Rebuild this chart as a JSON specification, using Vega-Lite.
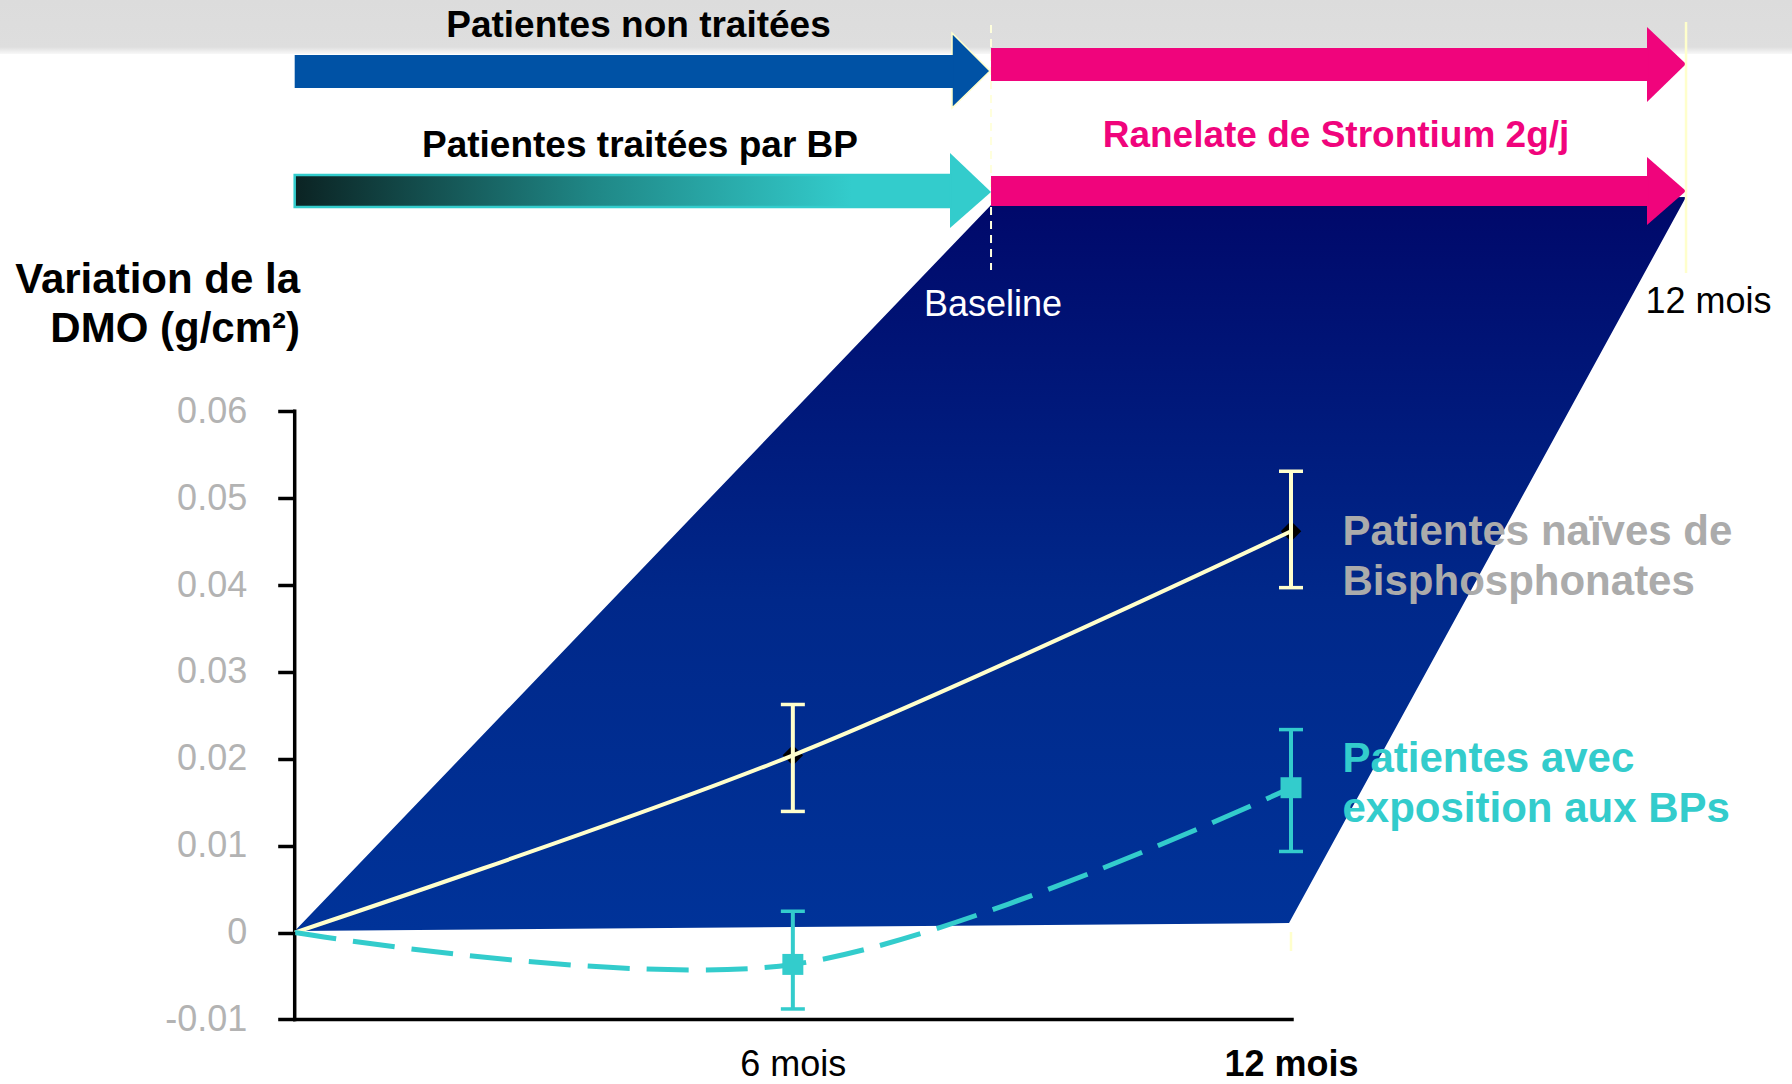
{
  "$schema": "https://vega.github.io/schema/vega-lite/v6.json",
  "width": 1792,
  "height": 1084,
  "autosize": {"type": "fit", "contains": "padding"},
  "padding": 0,
  "background": "white",
  "config": {"view": {"stroke": null}, "text": {"font": "Liberation Sans"}},
  "datasets": {
    "band": [{"x": -3.5495, "x2": 18.0343, "y": 0.107348, "y2": 0.101132}],
    "quad": [
      {"y": 0.08467, "x": 16.758, "x2": 16.758},
      {"y": 0.08375, "x": 8.387, "x2": 16.705},
      {"y": 0.001094, "x": 0.0927, "x2": 11.976},
      {"y": 0.000173, "x": 0, "x2": 0}
    ],
    "bodies": [
      {"arrow": "blue", "x": 0, "x2": 7.93, "y": 0.101016, "y2": 0.097217},
      {"arrow": "cyan", "x": 0, "x2": 7.9, "y": 0.087202, "y2": 0.083518},
      {"arrow": "pink", "x": 8.387, "x2": 16.3, "y": 0.101822, "y2": 0.098023},
      {"arrow": "pink", "x": 8.387, "x2": 16.3, "y": 0.087087, "y2": 0.083634}
    ],
    "heads": [
      {"arrow": "blue", "id": "b", "x": 7.917, "y": 0.103549, "y2": 0.094915},
      {"arrow": "blue", "id": "b", "x": 8.375, "y": 0.099175, "y2": 0.099175},
      {"arrow": "cyan", "id": "c", "x": 7.893, "y": 0.089735, "y2": 0.081101},
      {"arrow": "cyan", "id": "c", "x": 8.387, "y": 0.085245, "y2": 0.085245},
      {"arrow": "pink", "id": "p1", "x": 16.288, "y": 0.10424, "y2": 0.095606},
      {"arrow": "pink", "id": "p1", "x": 16.758, "y": 0.09998, "y2": 0.09998},
      {"arrow": "pink", "id": "p2", "x": 16.288, "y": 0.089274, "y2": 0.081446},
      {"arrow": "pink", "id": "p2", "x": 16.758, "y": 0.08536, "y2": 0.08536}
    ],
    "guides": [
      {"kind": "baseline", "x": 8.387, "y": 0.10447, "y2": 0.076266},
      {"kind": "end", "x": 16.758, "y": 0.104815, "y2": 0.075921},
      {"kind": "stub", "x": 12, "y": 0.000057, "y2": -0.00213}
    ],
    "axislines": [
      {"x": 0, "x2": 0, "y": -0.01, "y2": 0.06},
      {"x": 0, "x2": 12.012, "y": -0.01, "y2": -0.01}
    ],
    "series": [
      {"series": "naive", "x": 0, "y": 0},
      {"series": "naive", "x": 6, "y": 0.0204},
      {"series": "naive", "x": 12, "y": 0.0462},
      {"series": "exposed", "x": 0, "y": 0},
      {"series": "exposed", "x": 6, "y": -0.00367},
      {"series": "exposed", "x": 12, "y": 0.01667}
    ],
    "errors": [
      {"series": "naive", "x": 6, "y": 0.01394, "y2": 0.02625},
      {"series": "naive", "x": 12, "y": 0.0397, "y2": 0.0531},
      {"series": "exposed", "x": 6, "y": -0.0088, "y2": 0.00245},
      {"series": "exposed", "x": 12, "y": 0.00933, "y2": 0.02336}
    ],
    "caps": [
      {"series": "naive", "x": 6, "y": 0.01394},
      {"series": "naive", "x": 6, "y": 0.02625},
      {"series": "naive", "x": 12, "y": 0.0397},
      {"series": "naive", "x": 12, "y": 0.0531},
      {"series": "exposed", "x": 6, "y": -0.0088},
      {"series": "exposed", "x": 6, "y": 0.00245},
      {"series": "exposed", "x": 12, "y": 0.00933},
      {"series": "exposed", "x": 12, "y": 0.02336}
    ],
    "topText": [
      {"x": 4.141, "y": 0.103089, "label": "Patientes non traitées"},
      {"x": 4.159, "y": 0.089274, "label": "Patientes traitées par BP"}
    ],
    "pinkText": [{"x": 12.542, "y": 0.090426, "label": "Ranelate de Strontium 2g/j"}],
    "yTitle": [
      {"x": 0.0638, "y": 0.073618, "label": "Variation de la"},
      {"x": 0.0638, "y": 0.067977, "label": "DMO (g/cm²)"}
    ],
    "baselineText": [{"x": 8.411, "y": 0.070971, "label": "Baseline"}],
    "endText": [{"x": 17.029, "y": 0.071316, "label": "12 mois"}],
    "naiveText": [
      {"x": 12.62, "y": 0.044608, "label": "Patientes naïves de"},
      {"x": 12.62, "y": 0.038852, "label": "Bisphosphonates"}
    ],
    "exposedText": [
      {"x": 12.62, "y": 0.018476, "label": "Patientes avec"},
      {"x": 12.62, "y": 0.01272, "label": "exposition aux BPs"}
    ]
  },
  "encoding": {
    "x": {
      "field": "x",
      "type": "quantitative",
      "scale": {"domain": [-3.5495, 18.0343], "nice": false, "zero": false},
      "axis": {
        "orient": "bottom",
        "offset": -64.6,
        "values": [6, 12],
        "labelExpr": "datum.value === 6 ? '6 mois' : '12 mois'",
        "domain": false,
        "ticks": false,
        "tickSize": 0,
        "grid": false,
        "title": null,
        "labelPadding": 56.5,
        "labelBaseline": "alphabetic",
        "labelFont": "Liberation Sans",
        "labelFontSize": 36,
        "labelColor": "#000000",
        "labelFontWeight": {"condition": {"test": "datum.value === 12", "value": "bold"}, "value": "normal"},
        "labelAngle": 0,
        "labelFlush": false,
        "labelOverlap": false,
        "zindex": 1
      }
    },
    "y": {
      "field": "y",
      "type": "quantitative",
      "scale": {"domain": [-0.017437, 0.107348], "nice": false, "zero": false},
      "axis": {
        "orient": "left",
        "offset": -294.7,
        "values": [-0.01, 0, 0.01, 0.02, 0.03, 0.04, 0.05, 0.06],
        "labelExpr": "datum.value < 0 ? '-' + format(-datum.value, '~g') : format(datum.value, '~g')",
        "domain": false,
        "ticks": true,
        "tickSize": 17,
        "tickWidth": 3.5,
        "tickColor": "#000000",
        "grid": false,
        "title": null,
        "labelPadding": 31,
        "labelFont": "Liberation Sans",
        "labelFontSize": 36,
        "labelColor": "#B3B3B3",
        "labelFlush": false,
        "labelOverlap": false,
        "zindex": 1
      }
    }
  },
  "layer": [
    {
      "data": {"name": "band"},
      "mark": {"type": "rect", "fill": {"gradient": "linear", "x1": 0, "y1": 0, "x2": 0, "y2": 1, "stops": [{"offset": 0, "color": "#DCDCDC"}, {"offset": 0.87, "color": "#DEDEDE"}, {"offset": 1, "color": "#F8F8F8"}]}},
      "encoding": {"x2": {"field": "x2"}, "y2": {"field": "y2"}}
    },
    {
      "data": {"name": "quad"},
      "mark": {"type": "area", "orient": "horizontal", "fill": {"gradient": "linear", "x1": 0, "y1": 0, "x2": 0, "y2": 1, "stops": [{"offset": 0, "color": "#00086A"}, {"offset": 0.55, "color": "#00288A"}, {"offset": 1, "color": "#003399"}]}},
      "encoding": {"x2": {"field": "x2"}}
    },
    {
      "data": {"name": "guides"},
      "transform": [{"filter": "datum.kind === 'baseline'"}],
      "mark": {"type": "rule", "color": "#FFFFDD", "strokeWidth": 2, "strokeDash": [8, 6]},
      "encoding": {"y2": {"field": "y2"}}
    },
    {
      "data": {"name": "heads"},
      "transform": [{"filter": "datum.arrow === 'blue'"}],
      "mark": {"type": "area", "fill": "#0052A5", "stroke": "#FFFFCC", "strokeWidth": 1.5},
      "encoding": {"y2": {"field": "y2"}, "detail": {"field": "id"}}
    },
    {
      "data": {"name": "heads"},
      "transform": [{"filter": "datum.arrow === 'cyan'"}],
      "mark": {"type": "area", "fill": "#33CCCC"},
      "encoding": {"y2": {"field": "y2"}, "detail": {"field": "id"}}
    },
    {
      "data": {"name": "heads"},
      "transform": [{"filter": "datum.arrow === 'pink'"}],
      "mark": {"type": "area", "fill": "#F0047C"},
      "encoding": {"y2": {"field": "y2"}, "detail": {"field": "id"}}
    },
    {
      "data": {"name": "bodies"},
      "transform": [{"filter": "datum.arrow === 'blue'"}],
      "mark": {"type": "rect", "fill": "#0052A5"},
      "encoding": {"x2": {"field": "x2"}, "y2": {"field": "y2"}}
    },
    {
      "data": {"name": "bodies"},
      "transform": [{"filter": "datum.arrow === 'cyan'"}],
      "mark": {"type": "rect", "stroke": "#33CCCC", "strokeWidth": 2.5, "fill": {"gradient": "linear", "x1": 0, "y1": 0, "x2": 1, "y2": 0, "stops": [{"offset": 0, "color": "#0B2323"}, {"offset": 0.45, "color": "#1F8685"}, {"offset": 0.85, "color": "#33CCCC"}, {"offset": 1, "color": "#33CCCC"}]}},
      "encoding": {"x2": {"field": "x2"}, "y2": {"field": "y2"}}
    },
    {
      "data": {"name": "bodies"},
      "transform": [{"filter": "datum.arrow === 'pink'"}],
      "mark": {"type": "rect", "fill": "#F0047C"},
      "encoding": {"x2": {"field": "x2"}, "y2": {"field": "y2"}}
    },
    {
      "data": {"name": "guides"},
      "transform": [{"filter": "datum.kind !== 'baseline'"}],
      "mark": {"type": "rule", "color": "#FFFFCC", "strokeWidth": 2.5},
      "encoding": {"y2": {"field": "y2"}}
    },
    {
      "data": {"name": "axislines"},
      "mark": {"type": "rule", "color": "#000000", "strokeWidth": 3.5, "strokeCap": "square"},
      "encoding": {"x2": {"field": "x2"}, "y2": {"field": "y2"}}
    },
    {
      "data": {"name": "series"},
      "transform": [{"filter": "datum.series === 'naive' && datum.x > 0"}],
      "mark": {"type": "point", "shape": "diamond", "filled": true, "color": "#000000", "size": 420, "opacity": 1}
    },
    {
      "data": {"name": "series"},
      "transform": [{"filter": "datum.series === 'naive'"}],
      "mark": {"type": "line", "interpolate": "catmull-rom", "strokeWidth": 4, "color": "#FFFFCC"}
    },
    {
      "data": {"name": "series"},
      "transform": [{"filter": "datum.series === 'exposed'"}],
      "mark": {"type": "line", "interpolate": "catmull-rom", "strokeWidth": 5, "color": "#33CCCC", "strokeDash": [42, 17]}
    },
    {
      "data": {"name": "errors"},
      "mark": {"type": "rule", "strokeWidth": 4},
      "encoding": {
        "y2": {"field": "y2"},
        "color": {"field": "series", "type": "nominal", "scale": {"domain": ["naive", "exposed"], "range": ["#FFFFCC", "#33CCCC"]}, "legend": null}
      }
    },
    {
      "data": {"name": "caps"},
      "mark": {"type": "tick", "orient": "horizontal", "size": 24, "thickness": 3.5, "opacity": 1},
      "encoding": {
        "color": {"field": "series", "type": "nominal", "scale": {"domain": ["naive", "exposed"], "range": ["#FFFFCC", "#33CCCC"]}, "legend": null}
      }
    },
    {
      "data": {"name": "series"},
      "transform": [{"filter": "datum.series === 'exposed' && datum.x > 0"}],
      "mark": {"type": "point", "shape": "square", "filled": true, "color": "#33CCCC", "size": 440, "opacity": 1}
    },
    {
      "data": {"name": "topText"},
      "mark": {"type": "text", "font": "Liberation Sans", "fontSize": 37, "fontWeight": "bold", "color": "#000000", "align": "center", "baseline": "alphabetic"},
      "encoding": {"text": {"field": "label"}}
    },
    {
      "data": {"name": "pinkText"},
      "mark": {"type": "text", "font": "Liberation Sans", "fontSize": 37, "fontWeight": "bold", "color": "#F0047C", "align": "center", "baseline": "alphabetic"},
      "encoding": {"text": {"field": "label"}}
    },
    {
      "data": {"name": "yTitle"},
      "mark": {"type": "text", "font": "Liberation Sans", "fontSize": 42, "fontWeight": "bold", "color": "#000000", "align": "right", "baseline": "alphabetic"},
      "encoding": {"text": {"field": "label"}}
    },
    {
      "data": {"name": "baselineText"},
      "mark": {"type": "text", "font": "Liberation Sans", "fontSize": 36, "color": "#FFFFFF", "align": "center", "baseline": "alphabetic"},
      "encoding": {"text": {"field": "label"}}
    },
    {
      "data": {"name": "endText"},
      "mark": {"type": "text", "font": "Liberation Sans", "fontSize": 36, "color": "#000000", "align": "center", "baseline": "alphabetic"},
      "encoding": {"text": {"field": "label"}}
    },
    {
      "data": {"name": "naiveText"},
      "mark": {"type": "text", "font": "Liberation Sans", "fontSize": 42, "fontWeight": "bold", "color": "#ABABAB", "align": "left", "baseline": "alphabetic"},
      "encoding": {"text": {"field": "label"}}
    },
    {
      "data": {"name": "exposedText"},
      "mark": {"type": "text", "font": "Liberation Sans", "fontSize": 42, "fontWeight": "bold", "color": "#33CCCC", "align": "left", "baseline": "alphabetic"},
      "encoding": {"text": {"field": "label"}}
    }
  ]
}
